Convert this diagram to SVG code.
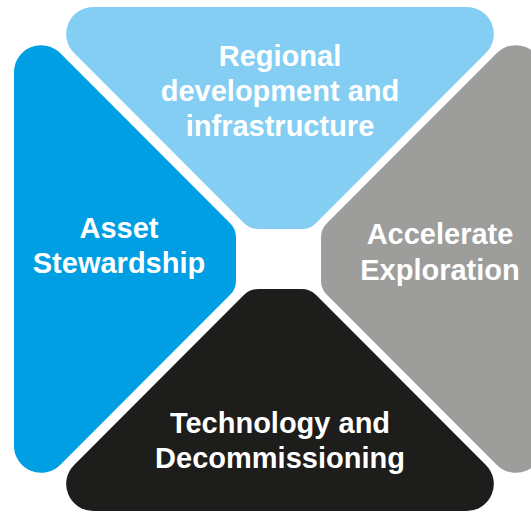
<svg xmlns="http://www.w3.org/2000/svg" xmlns:xlink="http://www.w3.org/1999/xlink" width="531" height="512" viewBox="0 0 531 512">
<style>
.lbl{font-family:"Liberation Sans",Arial,sans-serif;font-weight:bold;font-size:29px;fill:#ffffff;text-anchor:middle}
</style>
<defs>
<path id="petal" d="M-186.8,-222 H186.8 A27,27 0 0 1 205.9,-175.9 L35.86,-5.86 A20,20 0 0 1 21.72,0 H-21.72 A20,20 0 0 1 -35.86,-5.86 L-205.9,-175.9 A27,27 0 0 1 -186.8,-222 Z"/>
</defs>
<rect width="531" height="512" fill="#ffffff"/>
<g id="regional">
<use xlink:href="#petal" href="#petal" transform="translate(280,229)" fill="#84CEF3"/>
<text class="lbl" x="280" y="66">Regional</text>
<text class="lbl" x="280" y="101">development and</text>
<text class="lbl" x="280" y="136">infrastructure</text>
</g>
<g id="asset">
<use xlink:href="#petal" href="#petal" transform="translate(236,259) rotate(-90)" fill="#009FE3"/>
<text class="lbl" x="119" y="238">Asset</text>
<text class="lbl" x="119" y="273">Stewardship</text>
</g>
<g id="explore">
<use xlink:href="#petal" href="#petal" transform="translate(321,259) rotate(90)" fill="#9D9D9C"/>
<text class="lbl" x="440" y="244">Accelerate</text>
<text class="lbl" x="440" y="280">Exploration</text>
</g>
<g id="tech">
<use xlink:href="#petal" href="#petal" transform="translate(280,289) rotate(180)" fill="#1D1D1B"/>
<text class="lbl" x="280" y="433">Technology and</text>
<text class="lbl" x="280" y="468">Decommissioning</text>
</g>
<g id="connectors"></g>
</svg>
